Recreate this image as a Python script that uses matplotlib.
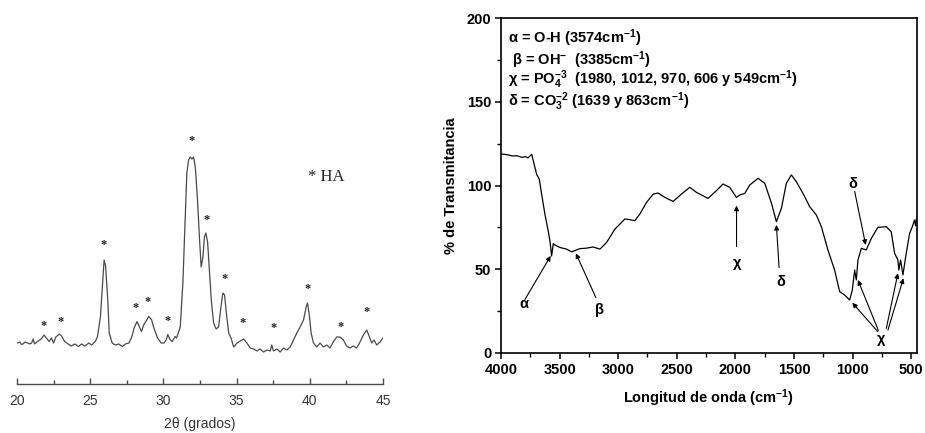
import matplotlib
matplotlib.use("Agg")
import matplotlib.pyplot as plt

plt.rcParams['font.family'] = ['Liberation Sans', 'DejaVu Sans']
plt.rcParams['mathtext.fontset'] = 'custom'
plt.rcParams['mathtext.rm'] = 'Liberation Sans:bold'
plt.rcParams['mathtext.bf'] = 'Liberation Sans:bold'
plt.rcParams['mathtext.it'] = 'Liberation Sans:bold'
plt.rcParams['mathtext.default'] = 'bf'

# ---------------- XRD data (left) ----------------
xrd_2theta = [20.02, 20.2, 20.3, 20.4, 20.55, 20.65, 20.85, 21.0, 21.1, 21.2, 21.4, 21.65, 21.85, 22.0, 22.2,
              22.35, 22.5, 22.65, 22.9, 23.05, 23.25, 23.5, 23.7, 23.95, 24.2, 24.4, 24.65, 24.9, 25.1,
              25.35, 25.5, 25.7, 25.85, 25.95, 26.05, 26.2, 26.3, 26.5, 26.7, 26.95, 27.2, 27.4, 27.65,
              27.85, 28.0, 28.2, 28.35, 28.5, 28.65, 28.8, 29.0, 29.2, 29.35, 29.6, 29.85, 30.05, 30.2,
              30.3, 30.45, 30.6, 30.8, 30.9, 31.05, 31.15, 31.33, 31.49, 31.6, 31.72, 31.83, 31.95,
              32.06, 32.18, 32.33, 32.47, 32.58, 32.7, 32.8, 32.9, 33.02, 33.13, 33.27, 33.43, 33.6,
              33.77, 33.93, 34.06, 34.18, 34.3, 34.46, 34.62, 34.8, 35.03, 35.25, 35.48, 35.7, 35.93,
              36.16, 36.39, 36.6, 36.84, 37.07, 37.3, 37.4, 37.52, 37.75, 37.98, 38.2, 38.43, 38.66,
              38.89, 39.11, 39.34, 39.57, 39.75, 39.84, 39.95, 40.09, 40.25, 40.48, 40.7, 40.93, 41.16,
              41.38, 41.6, 41.84, 42.06, 42.29, 42.52, 42.75, 42.97, 43.2, 43.43, 43.66, 43.89, 44.07,
              44.23, 44.39, 44.57, 44.8, 45.0]
xrd_int = [0, 1, -1.5, -1, 1, 0.5, -1, 0, 4, -1, 1.5, 4, 8, 5, 1.5,
           5, 0, 6, 9, 7, 1.5, -1, -3, -1, -3.5, -1, -3, 0, -2,
           1.5, 6.5, 26.5, 60, 83, 77, 43, 10, 0, -2, -1, -3.5, -1, 0,
           6.5, 15, 21.5, 16.5, 11.5, 18, 21.5, 26.5, 23, 15, 5, 0, 0, 3.5,
           8.5, 3.5, 1.5, 6.5, 5, 11.5, 16, 60, 126, 170, 183, 186, 184,
           186, 176, 143, 103, 76, 86, 106, 110, 101, 76, 43, 20, 14,
           16, 36, 50, 48, 30, 10, 5, -4, 0, 2, 4, 0, -5,
           -6, -8, -6, -9, -7, -8, -2, -8, -6, -9, -5, -7, -4,
           3, 10, 16, 23, 36, 40, 30, 10, 0, -4, 0, -4, -2,
           -5, 1, 6, 6, 3, -3, -5, -3, -5, 1, 8, 13, 6,
           0, 3, -2, 1, 5]
# HA reflections marked with '*'
ha_2theta = [21.82, 22.95, 25.95, 28.07, 28.93, 30.27, 31.93, 32.95, 34.16, 35.41, 37.5, 39.82, 42.09, 43.91]
ha_height = [17, 21, 98, 35, 41, 22, 202, 123, 64, 20, 15, 54, 16, 31]
xrd_ticks = [20, 25, 30, 35, 40, 45]

# ---------------- FTIR data (right) ----------------
ftir_wn = [3994, 3940, 3900, 3866, 3820, 3790, 3770, 3753, 3738, 3724, 3696, 3673, 3653, 3625, 3597,
           3582, 3568, 3554, 3540, 3497, 3440, 3397, 3327, 3270, 3213, 3156, 3099, 3028, 2985, 2943,
           2900, 2858, 2815, 2758, 2701, 2659, 2602, 2531, 2460, 2389, 2332, 2233, 2162, 2105, 2048,
           1991, 1963, 1920, 1877, 1806, 1749, 1692, 1650, 1607, 1565, 1522, 1480, 1423, 1366, 1309,
           1266, 1210, 1153, 1110, 1067, 1025, 1002, 982, 968, 954, 925, 883, 840, 784, 712, 670,
           641, 613, 605, 590, 570, 542, 513, 490, 471, 462, 455]
ftir_T = [118.8, 118.3, 117.6, 117.8, 116.8, 117.2, 116.5, 117.6, 118.6, 114.6, 106.7, 103.7, 94.7, 82.8, 72.8,
          66.8, 57.9, 65.3, 64.5, 63.0, 62.0, 60.4, 62.3, 62.6, 63.3, 62.0, 66.0, 74.0, 77.0, 80.0,
          79.6, 79.0, 83.0, 89.9, 94.9, 95.5, 92.9, 90.5, 94.9, 98.9, 95.9, 92.3, 96.9, 100.9, 98.9,
          92.9, 94.3, 95.3, 100.3, 104.3, 101.3, 89.4, 78.4, 86.4, 101.3, 106.3, 102.3, 95.3, 87.4, 82.4,
          75.4, 61.5, 49.5, 36.6, 34.6, 31.6, 37.6, 49.5, 43.6, 55.5, 62.5, 61.5, 68.4, 75.0, 75.4, 72.4,
          59.5, 55.5, 49.5, 55.5, 46.6, 59.5, 71.4, 75.4, 79.4, 76.0, 80.0]
ftir_xticks = [4000, 3500, 3000, 2500, 2000, 1500, 1000, 500]
ftir_yticks = [0, 50, 100, 150, 200]
legend_lines = [r"α = O-H (3574cm$^{-1}$)",
                r" β = OH$^{-}$  (3385cm$^{-1}$)",
                r"χ = PO$_{4}^{-3}$  (1980, 1012, 970, 606 y 549cm$^{-1}$)",
                r"δ = CO$_{3}^{-2}$ (1639 y 863cm$^{-1}$)"]

fig = plt.figure(figsize=(9.25, 4.33), dpi=100)

# ---------- left panel ----------
grey = '#4a4a4a'
axL = fig.add_axes([17/925, 1-384/433, 366/925, 254/433])
axL.plot(xrd_2theta, xrd_int, color=grey, lw=0.9)
for x, h in zip(ha_2theta, ha_height):
    axL.text(x, h, '*', ha='center', va='center', fontsize=9, color='#222222',
             family='Liberation Serif', fontweight='bold')
axL.text(39.9, 166, '* HA', ha='left', va='center', fontsize=12, color='#222222',
         family='Liberation Serif')
axL.set_xlim(20, 45)
axL.set_ylim(-41, 213)
for s in ['top', 'right', 'left']:
    axL.spines[s].set_visible(False)
axL.spines['bottom'].set_color(grey)
axL.spines['bottom'].set_linewidth(1.0)
axL.set_yticks([])
axL.set_xticks(xrd_ticks)
axL.set_xticks([22.5, 27.5, 32.5, 37.5, 42.5], minor=True)
axL.tick_params(axis='x', which='major', direction='in', length=4, width=1, color=grey,
                labelsize=10, labelcolor='#333333', pad=7)
axL.tick_params(axis='x', which='minor', direction='in', length=3, width=1, color=grey)
axL.set_xlabel('2θ (grados)', fontsize=10, color='#333333', labelpad=7)
axL.patch.set_alpha(0)

# ---------- right panel ----------
axR = fig.add_axes([501/925, 1-353/433, 416/925, 335/433])
axR.plot(ftir_wn, ftir_T, color='black', lw=0.9)
axR.set_xlim(4000, 450)
axR.set_ylim(0, 200)
axR.set_xticks(ftir_xticks)
axR.set_xticks([3750, 3250, 2750, 2250, 1750, 1250, 750], minor=True)
axR.set_yticks(ftir_yticks)
axR.set_yticks([25, 75, 125, 175], minor=True)
for s in axR.spines.values():
    s.set_linewidth(1.2)
axR.tick_params(which='major', direction='out', length=4, width=1.1, labelsize=10.5, pad=3)
axR.tick_params(which='minor', direction='out', length=3, width=1.0)
for lab in axR.get_xticklabels() + axR.get_yticklabels():
    lab.set_fontweight('bold')
axR.set_xlabel(r'Longitud de onda (cm$^{-1}$)', fontsize=10.5, fontweight='bold', labelpad=8)
axR.set_ylabel('% de Transmitancia', fontsize=10.5, fontweight='bold', labelpad=6)

ys = [188, 175, 163, 150]
for line, y in zip(legend_lines, ys):
    axR.text(3940, y, line, fontsize=10.5, fontweight='bold', va='center', ha='left')

ap = dict(arrowstyle='-|>', lw=0.8, color='black', mutation_scale=7, shrinkA=0, shrinkB=0)

def ann(xy, xytext):
    axR.annotate('', xy=xy, xytext=xytext, arrowprops=ap)

def lab(x, y, s):
    axR.text(x, y, s, fontsize=10.5, fontweight='bold', ha='center', va='center')

# alpha
ann((3576, 58), (3795, 32))
lab(3804, 29, 'α')
# beta
ann((3361, 59.5), (3190, 33))
lab(3156, 25.5, 'β')
# chi 1980
ann((1990, 88), (1990, 63.5))
lab(1985, 53.5, 'χ')
# delta 1639
ann((1650, 76.5), (1627, 51))
lab(1616, 42.5, 'δ')
# delta 863
ann((888, 64.5), (982, 96.5))
lab(997, 101, 'δ')
# chi group
ann((1002, 30), (784, 12.7))
ann((954, 43.6), (780, 13.5))
ann((613, 47.6), (712, 14.7))
ann((566, 44.6), (698, 13.7))
lab(755, 8.5, 'χ')

fig.savefig('out.png', dpi=100)
